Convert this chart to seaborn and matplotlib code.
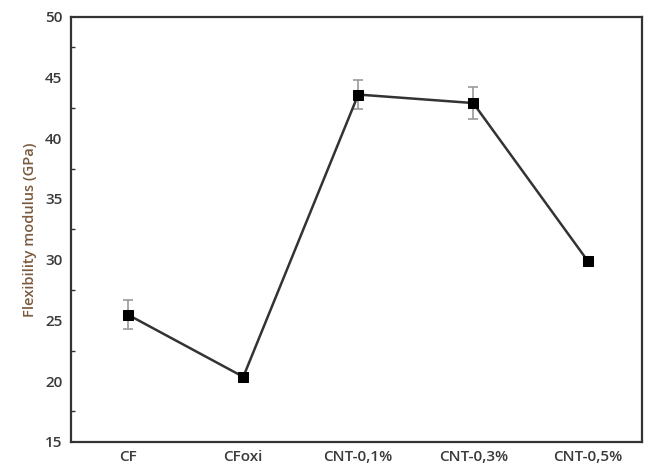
import numpy as np
import pandas as pd
import seaborn as sns
import matplotlib
import matplotlib.pyplot as plt
from matplotlib.ticker import MultipleLocator

matplotlib.use("Agg")

# Données
samples = ["CF", "CFoxi", "CNT-0,1%", "CNT-0,3%", "CNT-0,5%"]
modulus = [25.45, 20.35, 43.6, 42.9, 29.85]
errors = [1.2, 0.15, 1.2, 1.35, 0.25]

df = pd.DataFrame({"sample": samples, "modulus": modulus, "err": errors})

sns.set_style("white")
plt.rcParams["font.family"] = ["Open Sans", "DejaVu Sans"]

fig = plt.figure(figsize=(6.5, 4.68), dpi=100)
ax = fig.add_axes([0.109, 0.056, 0.879, 0.908])

x = np.arange(len(df))
ax.errorbar(x, df["modulus"], yerr=df["err"], fmt="none", ecolor="#9a9a9a",
            elinewidth=1.2, capsize=3.5, capthick=1.2, zorder=2)
sns.lineplot(data=df, x=x, y="modulus", ax=ax, color="#333333", linewidth=1.8,
             marker="s", markersize=7, markerfacecolor="black",
             markeredgecolor="black", zorder=3)

ax.set_xlim(-0.5, 4.47)
ax.set_ylim(15, 50)
ax.set_xticks(x)
ax.set_xticklabels(samples)
ax.yaxis.set_major_locator(MultipleLocator(5))
ax.yaxis.set_minor_locator(MultipleLocator(2.5))
ax.tick_params(axis="both", which="major", direction="in", length=5, width=1.2,
               colors="#333333", labelsize=11, pad=6)
ax.tick_params(axis="y", which="minor", direction="in", length=3, width=1.0,
               left=True, colors="#333333")
for lab in ax.get_xticklabels() + ax.get_yticklabels():
    lab.set_fontweight("semibold")
    lab.set_color("#3a3a3a")

for s in ax.spines.values():
    s.set_color("#333333")
    s.set_linewidth(1.6)

ax.set_xlabel("")
ax.set_ylabel("Flexibility modulus (GPa)", color="#7a5a3e", fontsize=10.5,
              fontweight="semibold", labelpad=6)

fig.savefig("out.png", dpi=100)
